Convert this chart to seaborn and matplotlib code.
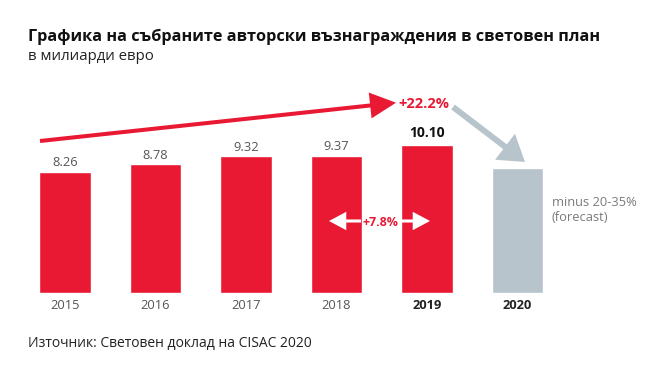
import matplotlib
matplotlib.use("Agg")
import matplotlib.pyplot as plt
from matplotlib.patches import FancyArrowPatch
import seaborn as sns
import pandas as pd

# ---- data ----
years = ["2015", "2016", "2017", "2018", "2019", "2020"]
values = [8.26, 8.78, 9.32, 9.37, 10.10, 8.5]
value_labels = ["8.26", "8.78", "9.32", "9.37", "10.10", ""]
bar_colors = ["#e91934", "#e91934", "#e91934", "#e91934", "#e91934", "#b8c4cb"]

title = "Графика на събраните авторски възнаграждения в световен план"
subtitle = "в милиарди евро"
source = "Източник: Световен доклад на CISAC 2020"
growth_total = "+22.2%"
growth_last = "+7.8%"
forecast_note = "minus 20-35%\n(forecast)"

RED = "#e91934"
GRAY = "#b8c4cb"
TXT = "#555555"

W, H, DPI = 666, 369, 100
sns.set_theme(style="white")
plt.rcParams["font.family"] = ["Open Sans", "DejaVu Sans"]

fig = plt.figure(figsize=(W / DPI, H / DPI), dpi=DPI)
fig.patch.set_facecolor("white")


def fp(x, y):
    """pixel (from top-left) -> figure fraction"""
    return (x / W, 1 - y / H)


unit = 90.5
ax_left = 65 - 0.5 * unit
ax = fig.add_axes([ax_left / W, (H - 293) / H, 7 * unit / W, 213 / H])

df = pd.DataFrame({"year": years, "value": values})
sns.barplot(data=df, x="year", y="value", hue="year", palette=bar_colors,
            legend=False, width=0.565, saturation=1, ax=ax)
ax.set_xlim(-0.5, 6.5)
ax.set_ylim(0, 213 / 14.65)
sns.despine(ax=ax, left=True, bottom=True)
ax.set_yticks([])
ax.set_xlabel("")
ax.set_ylabel("")
ax.tick_params(axis="x", length=0, pad=4, labelsize=9.3, labelcolor=TXT)
for lbl in ax.get_xticklabels():
    if lbl.get_text() in ("2019", "2020"):
        lbl.set_fontweight("bold")
        lbl.set_color("#222222")

for i, (v, t) in enumerate(zip(values, value_labels)):
    if not t:
        continue
    bold = t == "10.10"
    ax.annotate(t, (i, v), xytext=(0, 9.0 if bold else 6.5), textcoords="offset points",
                ha="center", va="center", fontsize=10 if bold else 9.3,
                fontweight="bold" if bold else "normal",
                color="#111111" if bold else TXT)

# titles
fig.text(*fp(28, 36.5), title, fontsize=11.7, fontweight="bold", color="#111111",
         ha="left", va="center")
fig.text(*fp(28, 56.5), subtitle, fontsize=10.8, color="#222222", ha="left", va="center")
fig.text(*fp(28, 344), source, fontsize=10.0, color="#222222", ha="left", va="center")


def arrow(p0, p1, color, lw, hl, hw):
    a = FancyArrowPatch(fp(*p0), fp(*p1), transform=fig.transFigure,
                        arrowstyle=f"-|>,head_length={hl},head_width={hw}",
                        color=color, lw=lw, shrinkA=0, shrinkB=0,
                        joinstyle="miter", capstyle="butt")
    fig.add_artist(a)


# red growth arrow
arrow((40, 141), (396, 102.7), RED, 2.9, 14.0, 7.0)
fig.text(*fp(424, 104), growth_total, fontsize=10.5, fontweight="bold", color=RED,
         ha="center", va="center")
# gray forecast arrow
arrow((453, 107), (525, 162), GRAY, 4.3, 12.0, 7.8)
# white double arrow
arrow((361, 221), (329, 221), "white", 2.2, 9.0, 4.8)
arrow((399, 221), (430, 221), "white", 2.2, 9.0, 4.8)
fig.text(*fp(380, 222), growth_last, fontsize=8.9, fontweight="bold", color=RED,
         ha="center", va="center")

fig.text(*fp(552, 210), forecast_note, fontsize=9.3, color="#7a7a7a", ha="left",
         va="center", linespacing=1.25)

fig.savefig("out.png", dpi=DPI, facecolor="white")
